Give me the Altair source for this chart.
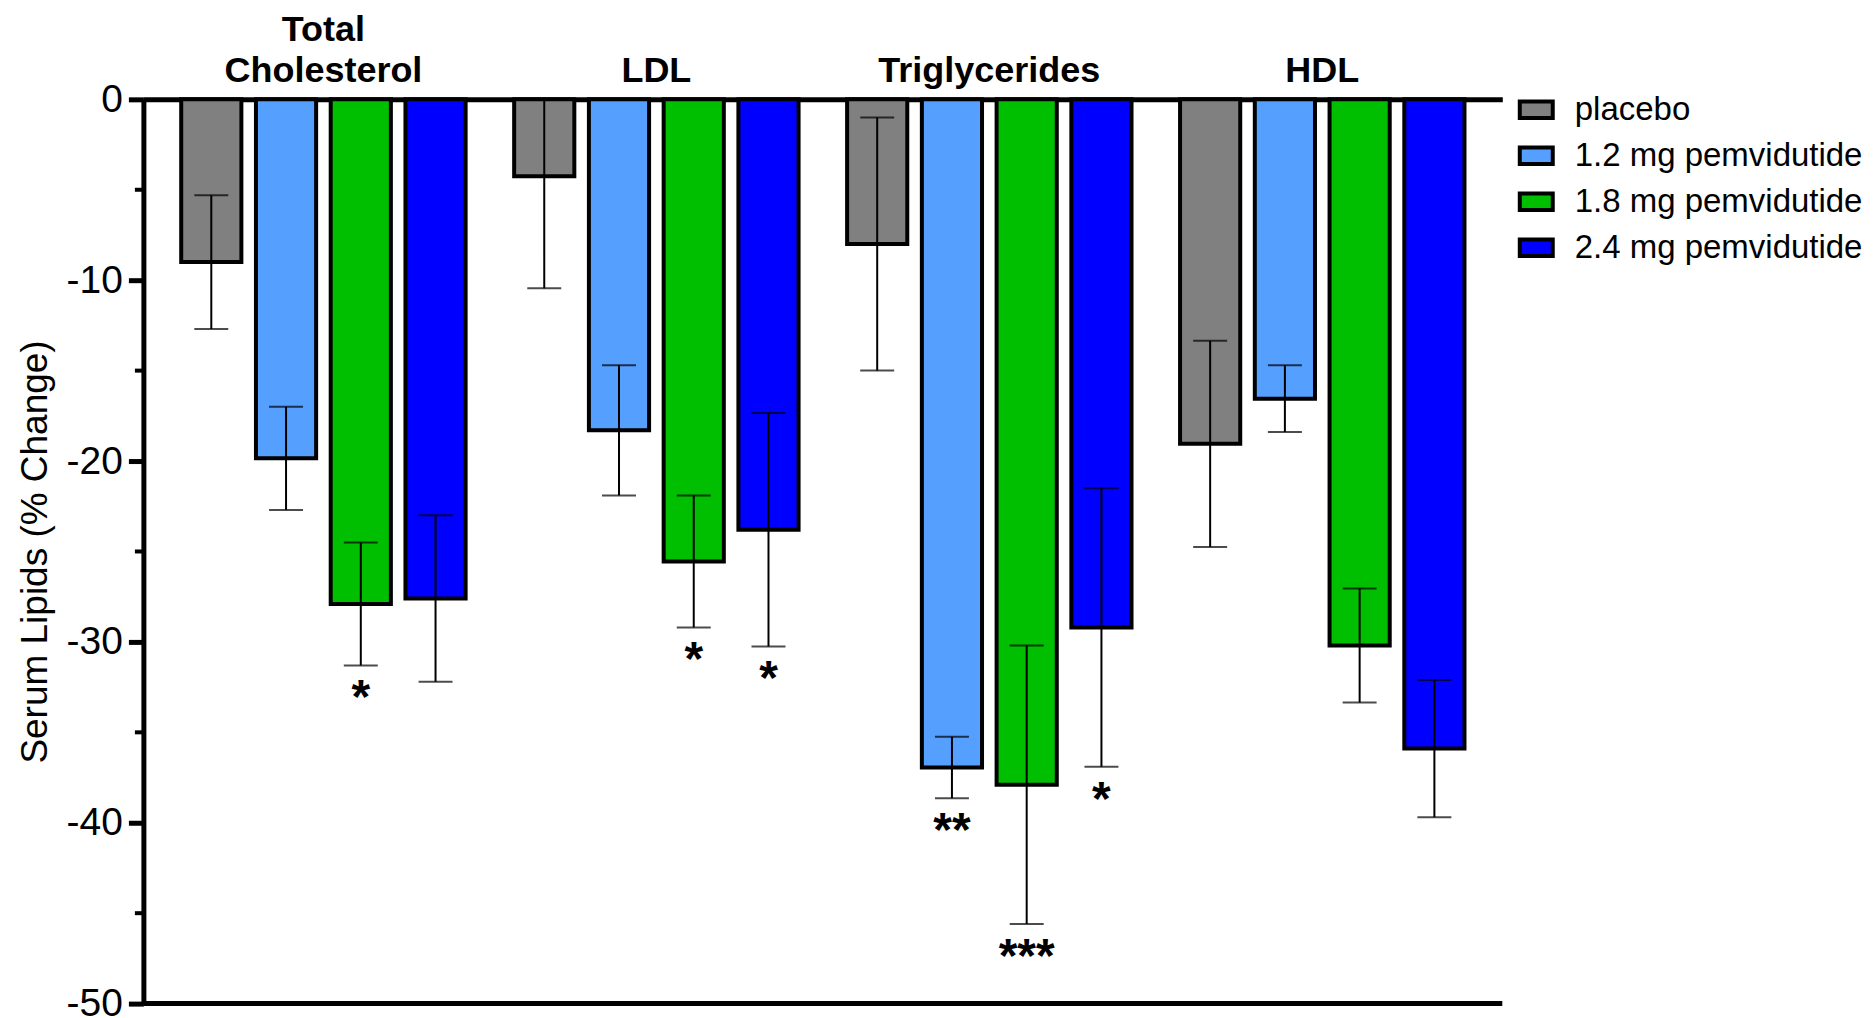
import altair as alt
import pandas as pd

categories = ["Total Cholesterol", "LDL", "Triglycerides", "HDL"]
groups = ["placebo", "1.2 mg pemvidutide", "1.8 mg pemvidutide", "2.4 mg pemvidutide"]
colors = ["#808080", "#559FFF", "#00BF00", "#0000FF"]

mean_placebo = [-9.0, -4.25, -8.0, -19.05]
mean_12 = [-19.85, -18.3, -36.95, -16.55]
mean_18 = [-27.9, -25.55, -37.9, -30.2]
mean_24 = [-27.6, -23.8, -29.2, -35.9]

sem_placebo = [3.7, 6.2, 7.0, 5.7]
sem_12 = [2.85, 3.6, 1.7, 1.85]
sem_18 = [3.4, 3.65, 7.7, 3.15]
sem_24 = [4.6, 6.45, 7.7, 3.8]

sig_placebo = ["", "", "", ""]
sig_12 = ["", "", "**", ""]
sig_18 = ["*", "*", "***", ""]
sig_24 = ["", "*", "*", ""]

y_ticks = [0, -10, -20, -30, -40, -50]
minor_ticks = [-5, -15, -25, -35, -45]
frame_bottom = [-50]

FONT = "Liberation Sans"
W, H = 1360, 905

rows = []
for g, means, sems, sigs in zip(
    groups,
    [mean_placebo, mean_12, mean_18, mean_24],
    [sem_placebo, sem_12, sem_18, sem_24],
    [sig_placebo, sig_12, sig_18, sig_24],
):
    for c, m, s, sg in zip(categories, means, sems, sigs):
        rows.append({"category": c, "group": g, "mean": m, "lo": m - s, "hi": m + s, "sig": sg})
df = pd.DataFrame(rows)
minor_df = pd.DataFrame({"v": minor_ticks})
bottom_df = pd.DataFrame({"v": frame_bottom})

x_axis = alt.Axis(
    orient="top", title=None, labelFont=FONT, labelFontSize=36, labelFontWeight="bold",
    labelAngle=0, ticks=False, tickSize=0, labelPadding=51, domainWidth=5,
    domainColor="black", labelColor="black", labelLimit=0, labelLineHeight=41,
    labelExpr="datum.label == 'Total Cholesterol' ? ['Total', 'Cholesterol'] : ['', datum.label]",
)
x_scale = alt.Scale(paddingInner=0.102, paddingOuter=0.0917)
xo_scale = alt.Scale(paddingInner=0.195, paddingOuter=0.0975)
y_scale = alt.Scale(domain=[-50, 0], nice=False, zero=False)
y_axis = alt.Axis(
    values=y_ticks, title="Serum Lipids (% Change)", titleFont=FONT, titleFontSize=37,
    titleFontWeight="normal", titleColor="black", titlePadding=12,
    labelFont=FONT, labelFontSize=39, labelColor="black", labelPadding=6,
    labelExpr="'' + datum.value",
    tickSize=15, tickWidth=5, tickColor="black", domainWidth=5, domainColor="black", grid=False,
)


def X():
    return alt.X("category:N", sort=categories, scale=x_scale, axis=x_axis)


def XO():
    return alt.XOffset("group:N", sort=groups, scale=xo_scale)


def Y(field):
    return alt.Y(field, scale=y_scale, axis=y_axis, stack=None)


bars = alt.Chart(df).mark_bar(stroke="black", strokeWidth=4).encode(
    x=X(),
    xOffset=XO(),
    y=Y("mean:Q"),
    color=alt.Color(
        "group:N", sort=groups, scale=alt.Scale(domain=groups, range=colors),
        legend=alt.Legend(
            title=None, orient="none", legendX=1375.5, legendY=-8, labelFont=FONT, labelFontSize=33,
            labelColor="black", symbolType="M-1,-0.5L1,-0.5L1,0.5L-1,0.5Z", symbolSize=1089,
            symbolStrokeColor="black", symbolStrokeWidth=4, rowPadding=10, labelOffset=20,
            symbolOpacity=1, labelLimit=0,
        ),
    ),
)

err = alt.Chart(df).mark_rule(color="black", strokeWidth=2, clip=True).encode(
    x=X(), xOffset=XO(), y=Y("lo:Q"), y2="hi:Q"
)
cap_lo = alt.Chart(df).mark_tick(color="black", thickness=2, size=34, clip=True).encode(
    x=X(), xOffset=XO(), y=Y("lo:Q")
)
cap_hi = alt.Chart(df).mark_tick(color="black", thickness=2, size=34, clip=True).encode(
    x=X(), xOffset=XO(), y=Y("hi:Q")
)
stars = alt.Chart(df).transform_filter("datum.sig != ''").mark_text(
    font=FONT, fontSize=48, fontWeight="bold", baseline="middle", dy=34, color="black"
).encode(x=X(), xOffset=XO(), y=Y("lo:Q"), text="sig:N")

minor = alt.Chart(minor_df).mark_rule(color="black", strokeWidth=4).encode(
    y=Y("v:Q"), x=alt.value(-8.5), x2=alt.value(0)
)
bottom = alt.Chart(bottom_df).mark_rule(color="black", strokeWidth=5).encode(
    y=Y("v:Q"), x=alt.value(0), x2=alt.value(W)
)

chart = alt.layer(bars, err, cap_lo, cap_hi, stars, minor, bottom).properties(
    width=W, height=H, background="white",
    padding={"left": 7.5, "top": 3, "right": 5, "bottom": 5},
).configure_view(stroke=None)

chart.save("out.html", embed_options={"renderer": "svg", "actions": False})
